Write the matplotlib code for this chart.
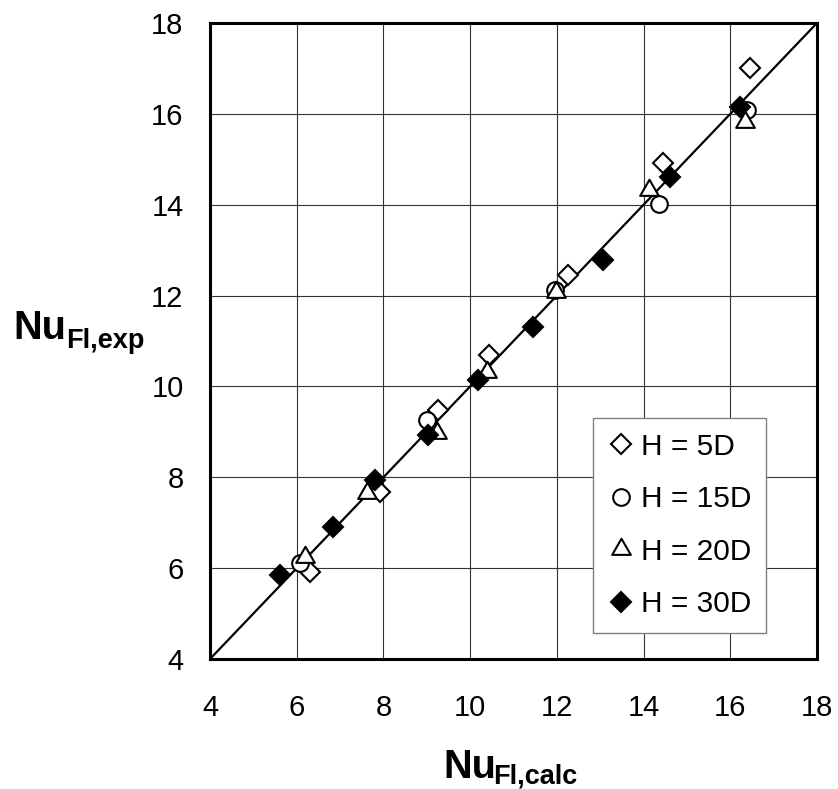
"""
Parity plot: experimental vs calculated Nusselt number for several H/D
"""

import numpy as np
import matplotlib
matplotlib.use("Agg")
import matplotlib.pyplot as plt
from matplotlib.path import Path as MPath
from matplotlib.lines import Line2D

plt.rcParams["font.family"] = ["Liberation Sans", "DejaVu Sans"]

# H = 5D
nu_calc_5d = [6.31, 7.92, 9.26, 10.43, 12.26, 14.45, 16.45]
nu_exp_5d = [5.92, 7.68, 9.48, 10.69, 12.45, 14.92, 17.01]

# H = 15D
nu_calc_15d = [6.08, 9.00, 11.96, 14.36, 16.38]
nu_exp_15d = [6.11, 9.26, 12.12, 14.02, 16.08]

# H = 20D
nu_calc_20d = [6.19, 7.62, 9.24, 10.39, 11.98, 14.12, 16.34]
nu_exp_20d = [6.25, 7.65, 8.97, 10.32, 12.08, 14.32, 15.82]

# H = 30D
nu_calc_30d = [5.61, 6.84, 7.81, 9.03, 10.18, 11.45, 13.06, 14.61, 16.22]
nu_exp_30d = [5.85, 6.91, 7.94, 8.93, 10.14, 11.31, 12.78, 14.61, 16.15]

axis_min, axis_max = 4, 18
ticks = [4, 6, 8, 10, 12, 14, 16, 18]

W, H = 838, 789


def fx(px):
    return px / W


def fy(py):
    return 1 - py / H


# equilateral triangle, wider than the default '^'
tri = MPath([(-1, -0.577), (1, -0.577), (0, 1.155), (-1, -0.577)],
            [MPath.MOVETO, MPath.LINETO, MPath.LINETO, MPath.CLOSEPOLY])

series = [
    (nu_calc_5d, nu_exp_5d, dict(marker="D", ms=10, mfc="white"), "H = 5D"),
    (nu_calc_15d, nu_exp_15d, dict(marker="o", ms=12, mfc="white"), "H = 15D"),
    (nu_calc_20d, nu_exp_20d, dict(marker=tri, ms=15.5, mfc="white"), "H = 20D"),
    (nu_calc_30d, nu_exp_30d, dict(marker="D", ms=10, mfc="black"), "H = 30D"),
]

fig = plt.figure(figsize=(W / 100, H / 100), dpi=100)
ax = fig.add_axes([fx(210), fy(659), fx(817) - fx(210), fy(23) - fy(659)])

ax.plot([axis_min, axis_max], [axis_min, axis_max], color="black", lw=1.6, zorder=2)

handles = []
for xs, ys, style, label in series:
    ax.plot(xs, ys, ls="none", mec="black", mew=1.5, zorder=3, **style)
    handles.append(Line2D([], [], ls="none", mec="black", mew=1.5, label=label, **style))

ax.set_xlim(axis_min, axis_max)
ax.set_ylim(axis_min, axis_max)
ax.set_xticks(ticks)
ax.set_yticks(ticks)
ax.tick_params(axis="both", length=0, labelsize=21)
ax.tick_params(axis="x", pad=25)
ax.tick_params(axis="y", pad=19)
ax.grid(True, color="#333333", lw=0.8)
ax.set_axisbelow(True)
for sp in ax.spines.values():
    sp.set_linewidth(2.2)

leg = ax.legend(handles=handles, loc="upper left",
                bbox_to_anchor=(fx(593), fy(418)), bbox_transform=fig.transFigure,
                borderaxespad=0, fontsize=21.5, handlelength=0.9, handletextpad=0.2,
                labelspacing=0.82, borderpad=0.5, fancybox=False, framealpha=1,
                numpoints=1)
leg.get_frame().set_edgecolor("#808080")
leg.get_frame().set_linewidth(1.0)

# axis titles with subscripts
fig.text(fx(443), fy(778), "Nu", fontsize=28.5, fontweight="bold", va="baseline")
fig.text(fx(493), fy(783), "Fl,calc", fontsize=19.5, fontweight="bold", va="baseline")
fig.text(fx(13), fy(339), "Nu", fontsize=28.5, fontweight="bold", va="baseline")
fig.text(fx(66), fy(348), "Fl,exp", fontsize=19.5, fontweight="bold", va="baseline")

fig.savefig("out.png", dpi=100)
